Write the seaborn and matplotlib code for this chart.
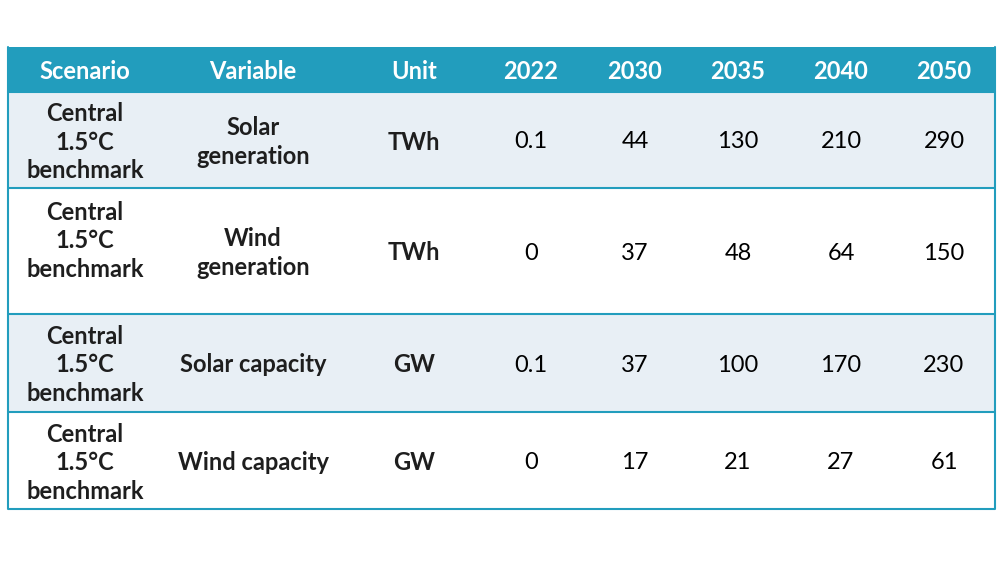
import matplotlib
matplotlib.use('Agg')
import matplotlib.pyplot as plt
import seaborn as sns
import pandas as pd

# Daten da tabela
cenarios = ['Central\n1.5°C\nbenchmark'] * 4
variaveis = ['Solar\ngeneration', 'Wind\ngeneration', 'Solar capacity', 'Wind capacity']
unidades = ['TWh', 'TWh', 'GW', 'GW']
anos = ['2022', '2030', '2035', '2040', '2050']
v2022 = ['0.1', '0', '0.1', '0']
v2030 = ['44', '37', '37', '17']
v2035 = ['130', '48', '100', '21']
v2040 = ['210', '64', '170', '27']
v2050 = ['290', '150', '230', '61']
cabecalho = ['Scenario', 'Variable', 'Unit'] + anos

df = pd.DataFrame({'Scenario': cenarios, 'Variable': variaveis, 'Unit': unidades,
                   '2022': v2022, '2030': v2030, '2035': v2035,
                   '2040': v2040, '2050': v2050})

sns.set_theme(style='white')
plt.rcParams['font.family'] = ['Lato', 'DejaVu Sans']

cor_cab = '#229dbd'
cor_faixa = '#e8eff5'
cor_texto = '#1e1e1e'
tam = 17

# layout (pixels)
x0, x1 = 8, 995
y_linhas = [47, 92, 188, 314, 412, 509]
x_cols = [85, 253, 414, 531, 635, 738, 841, 944]
y_cenario = [142, 241, 365, 463]

fig = plt.figure(figsize=(10, 5.63), dpi=100)
ax = fig.add_axes([0, 0, 1, 1])
ax.set_xlim(0, 1000)
ax.set_ylim(563, 0)
ax.axis('off')

# header
ax.fill_between([x0, x1], y_linhas[0], y_linhas[1], color=cor_cab, lw=0)
for x, txt in zip(x_cols, cabecalho):
    ax.text(x, (y_linhas[0] + y_linhas[1]) / 2 + 2, txt, ha='center', va='center',
            color='white', fontsize=tam, fontweight='bold')

# linhas
for i, row in df.iterrows():
    top, bot = y_linhas[i + 1], y_linhas[i + 2]
    if i % 2 == 0:
        ax.fill_between([x0, x1], top, bot, color=cor_faixa, lw=0)
    yc = (top + bot) / 2 + 2
    for j, col in enumerate(df.columns):
        y = y_cenario[i] if j == 0 else yc
        bold = j < 3
        ax.text(x_cols[j], y, row[col], ha='center', va='center',
                color=cor_texto if bold else 'black', fontsize=tam,
                fontweight='bold' if bold else 'normal', linespacing=1.27)
    ax.plot([x0, x1], [bot, bot], color=cor_cab, lw=1.5, solid_capstyle='butt')

# borda
ax.plot([x0, x0], [y_linhas[0], y_linhas[-1]], color=cor_cab, lw=1.5)
ax.plot([x1, x1], [y_linhas[0], y_linhas[-1]], color=cor_cab, lw=1.5)
ax.plot([x0, x1], [y_linhas[1], y_linhas[1]], color=cor_cab, lw=1.5)

fig.savefig('out.png', dpi=100, facecolor='white')
